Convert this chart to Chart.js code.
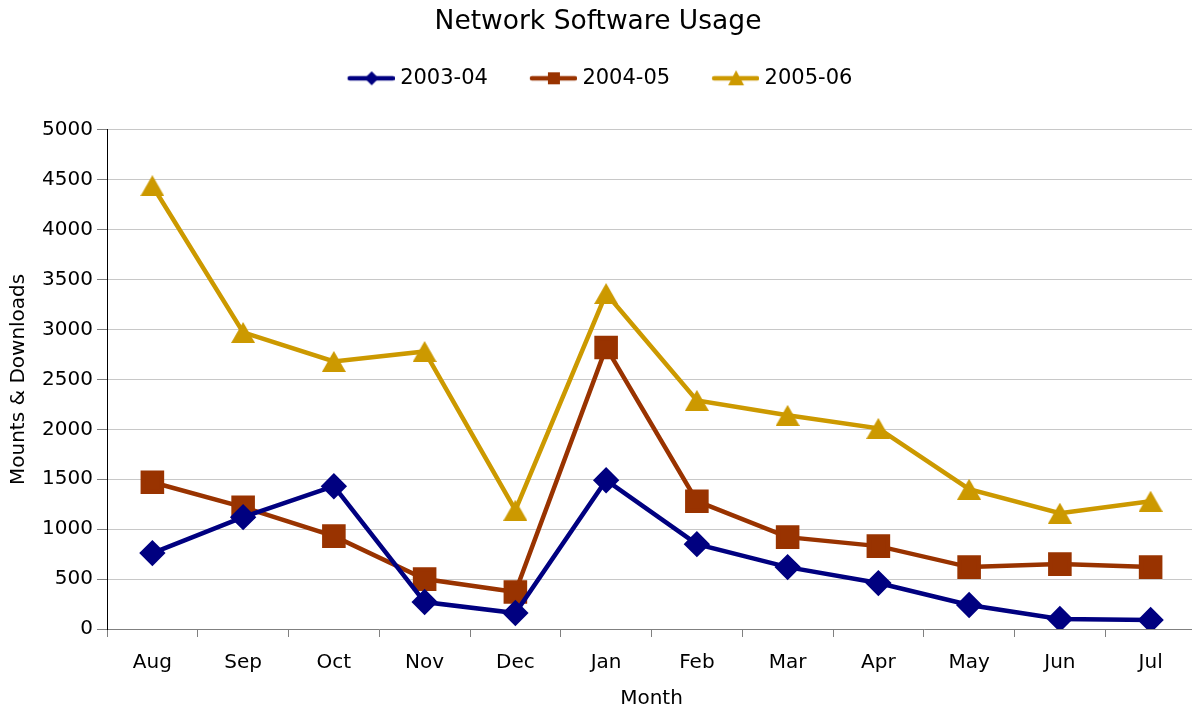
<!DOCTYPE html>
<html>
<head>
<meta charset="utf-8">
<script src="https://cdn.jsdelivr.net/npm/chart.js@4"></script>
<style>
  html, body { margin: 0; padding: 0; background: #fff; overflow: hidden; }
  #wrap { width: 1192px; height: 708px; overflow: hidden; position: relative; }
  #box { width: 1214px; height: 708px; }
</style>
</head>
<body>
<div id="wrap"><div id="box"><canvas id="chart"></canvas></div></div>
<script>
// ===== DONNÉES =====
const months = ['Aug', 'Sep', 'Oct', 'Nov', 'Dec', 'Jan', 'Feb', 'Mar', 'Apr', 'May', 'Jun', 'Jul']
const usage0304 = [760, 1120, 1430, 270, 160, 1490, 850, 620, 460, 240, 100, 90]
const usage0405 = [1470, 1220, 930, 500, 370, 2820, 1280, 920, 830, 620, 650, 620]
const usage0506 = [4440, 2970, 2680, 2780, 1190, 3360, 2290, 2140, 2010, 1400, 1160, 1280]
const yTicks = [0, 500, 1000, 1500, 2000, 2500, 3000, 3500, 4000, 4500, 5000]

const FONT = 'DejaVu Sans, Verdana, sans-serif'
const navy = '#000080'
const brown = '#993300'
const gold = '#CC9900'

// petite image pour la légende : trait + marqueur (décalée vers la droite)
function legendIcon(color, style) {
  const c = document.createElement('canvas')
  c.width = 70
  c.height = 18
  const g = c.getContext('2d')
  g.strokeStyle = color
  g.fillStyle = color
  g.lineWidth = 4.5
  g.lineCap = 'round'
  g.beginPath()
  g.moveTo(25, 9)
  g.lineTo(68, 9)
  g.stroke()
  g.beginPath()
  const cx = 47
  if (style === 'diamond') {
    g.moveTo(cx, 2); g.lineTo(cx + 7, 9); g.lineTo(cx, 16); g.lineTo(cx - 7, 9)
  } else if (style === 'square') {
    g.rect(cx - 6, 3, 12, 12)
  } else {
    g.moveTo(cx, 1); g.lineTo(cx + 8, 16); g.lineTo(cx - 8, 16)
  }
  g.closePath()
  g.fill()
  return c
}
const icons = [legendIcon(navy, 'diamond'), legendIcon(brown, 'square'), legendIcon(gold, 'tri')]

// triangle centré sur sa boîte (comme Excel)
function triangleMarker(color) {
  const c = document.createElement('canvas')
  c.width = 24
  c.height = 21
  const g = c.getContext('2d')
  g.fillStyle = color
  g.beginPath()
  g.moveTo(12, 0)
  g.lineTo(24, 21)
  g.lineTo(0, 21)
  g.closePath()
  g.fill()
  return c
}

// espace sous la légende + recentrage du titre et de la légende
const headerTweaks = {
  id: 'headerTweaks',
  beforeInit(chart) {
    const fit = chart.legend.fit
    chart.legend.fit = function () {
      fit.call(this)
      this.height += 31
    }
  },
  afterLayout(chart) {
    chart.legend.left -= 16
    chart.legend.right -= 16
    chart.titleBlock.left -= 18
  },
}

const ctx = document.getElementById('chart')
new Chart(ctx, {
  type: 'line',
  plugins: [headerTweaks],
  data: {
    labels: months,
    datasets: [
      {
        label: '2003-04', data: usage0304,
        borderColor: navy, backgroundColor: navy,
        borderWidth: 4.5, pointStyle: 'rectRot', pointRadius: 10,
      },
      {
        label: '2004-05', data: usage0405,
        borderColor: brown, backgroundColor: brown,
        borderWidth: 4.5, pointStyle: 'rect', pointRadius: 13.5,
      },
      {
        label: '2005-06', data: usage0506,
        borderColor: gold, backgroundColor: gold,
        borderWidth: 4.5, pointStyle: triangleMarker(gold), pointRadius: 12,
      },
    ],
  },
  options: {
    responsive: true,
    maintainAspectRatio: false,
    animation: false,
    layout: { padding: { top: 6, right: 0, left: 0, bottom: 0 } },
    elements: { line: { tension: 0 }, point: { borderWidth: 0, hoverRadius: 10 } },
    scales: {
      x: {
        offset: true,
        grid: { offset: true, drawOnChartArea: false, tickLength: 8, tickColor: '#808080' },
        border: { display: true, color: '#808080', width: 1 },
        ticks: { color: '#000', font: { family: FONT, size: 20 }, padding: 14, maxRotation: 0 },
        title: { display: true, text: 'Month', color: '#000', font: { family: FONT, size: 20 }, padding: { top: 0, bottom: -3 } },
        afterFit: (scale) => { scale.height = 79 },
      },
      y: {
        min: 0,
        max: 5000,
        afterBuildTicks: (scale) => { scale.ticks = yTicks.map((v) => ({ value: v })) },
        grid: { color: '#c8c8c8', tickLength: 10, tickColor: '#808080' },
        border: { display: true, color: '#000', width: 1 },
        ticks: {
          color: '#000', font: { family: FONT, size: 20 }, padding: 4,
          callback: (v) => String(v),
        },
        title: { display: true, text: 'Mounts & Downloads', color: '#000', font: { family: FONT, size: 20 }, padding: { top: 7, bottom: 4 } },
        afterFit: (scale) => { scale.width = 107 },
      },
    },
    plugins: {
      title: {
        display: true,
        text: 'Network Software Usage',
        color: '#000',
        font: { family: FONT, size: 26.5, weight: 'normal' },
        padding: { top: 0, bottom: 6 },
      },
      legend: {
        position: 'top',
        labels: {
          color: '#000',
          font: { family: FONT, size: 21 },
          usePointStyle: true,
          pointStyleWidth: 60,
          boxHeight: 18,
          padding: 24,
          generateLabels: (chart) => {
            const items = Chart.defaults.plugins.legend.labels.generateLabels(chart)
            items.forEach((it, i) => { it.pointStyle = icons[i] })
            return items
          },
        },
      },
      tooltip: { enabled: false },
    },
  },
})
</script>
</body>
</html>
